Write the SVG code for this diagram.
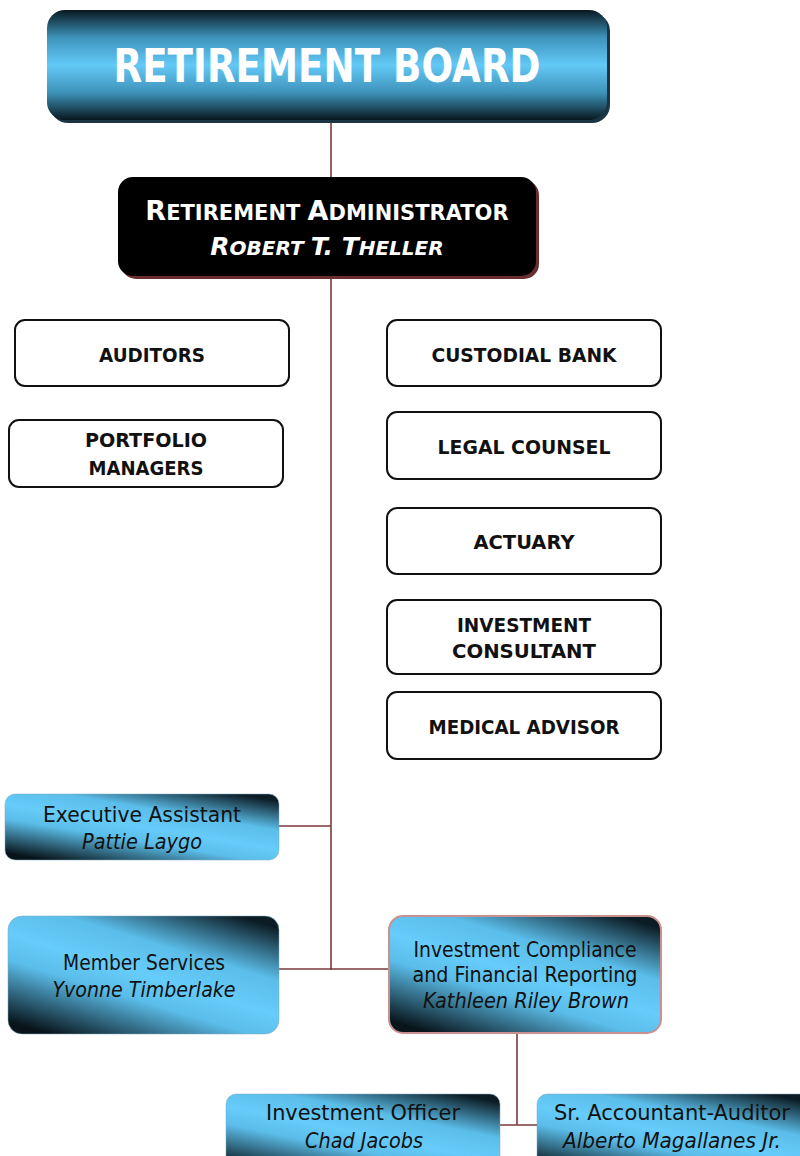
<svg xmlns="http://www.w3.org/2000/svg" width="800" height="1156" viewBox="0 0 800 1156">
<defs>
<linearGradient id="gBoard" x1="0" y1="0" x2="0" y2="1">
<stop offset="0" stop-color="#081820"/>
<stop offset="0.25" stop-color="#3e93ba"/>
<stop offset="0.5" stop-color="#63c9f7"/>
<stop offset="0.75" stop-color="#3e93ba"/>
<stop offset="1" stop-color="#081820"/>
</linearGradient>
<linearGradient id="gDiag" x1="0.15" y1="1" x2="0.85" y2="0">
<stop offset="0" stop-color="#08141a"/>
<stop offset="0.35" stop-color="#5bbde9"/>
<stop offset="0.5" stop-color="#66ccfa"/>
<stop offset="0.7" stop-color="#5bbde9"/>
<stop offset="1" stop-color="#0c1c24"/>
</linearGradient>
<style>
.conn{stroke:#7a3a3a;stroke-width:1.6;fill:none}
.wbox{fill:#fff;stroke:#111;stroke-width:2}
.bbox{stroke:#7faac0;stroke-width:0.5}
.t{font-family:"DejaVu Sans","Liberation Sans",sans-serif;text-anchor:middle}
.cap{font-weight:bold;font-size:20px;fill:#111}
.lbl{font-size:21px;fill:#111}
.it{font-style:italic}
</style>
</defs>

<g id="connectors">
<line class="conn" x1="331" y1="120" x2="331" y2="970"/>
<line class="conn" x1="279" y1="826" x2="331" y2="826"/>
<line class="conn" x1="279" y1="969" x2="389" y2="969"/>
<line class="conn" x1="517" y1="1033" x2="517" y2="1125"/>
<line class="conn" x1="500" y1="1125" x2="537" y2="1125"/>
</g>

<g id="retirement-board">
<rect x="50" y="13" width="560" height="110" rx="18" fill="#1c3444"/>
<rect x="47" y="10" width="560" height="110" rx="18" fill="url(#gBoard)"/>
<text class="t" x="327" y="82" font-size="46" font-weight="bold" fill="#fff" textLength="427" lengthAdjust="spacingAndGlyphs">RETIREMENT BOARD</text>
</g>

<g id="retirement-administrator">
<rect x="121" y="180" width="418" height="99" rx="15" fill="#6b2e2e"/>
<rect x="118" y="177" width="418" height="99" rx="15" fill="#000"/>
<text class="t" x="327" y="220" font-weight="bold" fill="#fff" font-size="21"><tspan font-size="27">R</tspan>ETIREMENT <tspan font-size="27">A</tspan>DMINISTRATOR</text>
<text class="t it" x="327" y="255" font-weight="bold" fill="#fff" font-size="20"><tspan font-size="25">R</tspan>OBERT <tspan font-size="25">T. T</tspan>HELLER</text>
</g>

<g id="auditors">
<rect class="wbox" x="15" y="320" width="274" height="66" rx="10"/>
<text class="t cap" x="152" y="362" textLength="106" lengthAdjust="spacingAndGlyphs">AUDITORS</text>
</g>

<g id="portfolio-managers">
<rect class="wbox" x="9" y="420" width="274" height="67" rx="10"/>
<text class="t cap" x="146" y="447" textLength="122" lengthAdjust="spacingAndGlyphs">PORTFOLIO</text>
<text class="t cap" x="146" y="475" textLength="115" lengthAdjust="spacingAndGlyphs">MANAGERS</text>
</g>

<g id="custodial-bank">
<rect class="wbox" x="387" y="320" width="274" height="66" rx="10"/>
<text class="t cap" x="524" y="362" textLength="185" lengthAdjust="spacingAndGlyphs">CUSTODIAL BANK</text>
</g>

<g id="legal-counsel">
<rect class="wbox" x="387" y="412" width="274" height="67" rx="10"/>
<text class="t cap" x="524" y="454" textLength="173" lengthAdjust="spacingAndGlyphs">LEGAL COUNSEL</text>
</g>

<g id="actuary">
<rect class="wbox" x="387" y="508" width="274" height="66" rx="10"/>
<text class="t cap" x="524" y="549" textLength="101" lengthAdjust="spacingAndGlyphs">ACTUARY</text>
</g>

<g id="investment-consultant">
<rect class="wbox" x="387" y="600" width="274" height="74" rx="10"/>
<text class="t cap" x="524" y="632" textLength="134" lengthAdjust="spacingAndGlyphs">INVESTMENT</text>
<text class="t cap" x="524" y="658" textLength="144" lengthAdjust="spacingAndGlyphs">CONSULTANT</text>
</g>

<g id="medical-advisor">
<rect class="wbox" x="387" y="692" width="274" height="67" rx="10"/>
<text class="t cap" x="524" y="734" textLength="191" lengthAdjust="spacingAndGlyphs">MEDICAL ADVISOR</text>
</g>

<g id="executive-assistant">
<rect class="bbox" x="5" y="794" width="274" height="66" rx="10" fill="url(#gDiag)"/>
<text class="t lbl" x="142" y="822" textLength="198" lengthAdjust="spacingAndGlyphs">Executive Assistant</text>
<text class="t lbl it" x="142" y="849" textLength="120" lengthAdjust="spacingAndGlyphs">Pattie Laygo</text>
</g>

<g id="member-services">
<rect class="bbox" x="8" y="916" width="271" height="118" rx="14" fill="url(#gDiag)"/>
<text class="t lbl" x="144" y="970" textLength="162" lengthAdjust="spacingAndGlyphs">Member Services</text>
<text class="t lbl it" x="144" y="997" textLength="183" lengthAdjust="spacingAndGlyphs">Yvonne Timberlake</text>
</g>

<g id="investment-compliance">
<rect x="389" y="916" width="272" height="117" rx="14" fill="url(#gDiag)" stroke="#c99090" stroke-width="2"/>
<text class="t lbl" x="525" y="957" textLength="223" lengthAdjust="spacingAndGlyphs">Investment Compliance</text>
<text class="t lbl" x="525" y="982" textLength="225" lengthAdjust="spacingAndGlyphs">and Financial Reporting</text>
<text class="t lbl it" x="526" y="1008" textLength="206" lengthAdjust="spacingAndGlyphs">Kathleen Riley Brown</text>
</g>

<g id="investment-officer">
<rect class="bbox" x="226" y="1094" width="274" height="80" rx="10" fill="url(#gDiag)"/>
<text class="t lbl" x="363" y="1120" textLength="194" lengthAdjust="spacingAndGlyphs">Investment Officer</text>
<text class="t lbl it" x="364" y="1148" textLength="118" lengthAdjust="spacingAndGlyphs">Chad Jacobs</text>
</g>

<g id="sr-accountant-auditor">
<rect class="bbox" x="537" y="1094" width="274" height="80" rx="10" fill="url(#gDiag)"/>
<text class="t lbl" x="672" y="1120" textLength="236" lengthAdjust="spacingAndGlyphs">Sr. Accountant-Auditor</text>
<text class="t lbl it" x="672" y="1148" textLength="218" lengthAdjust="spacingAndGlyphs">Alberto Magallanes Jr.</text>
</g>
</svg>
